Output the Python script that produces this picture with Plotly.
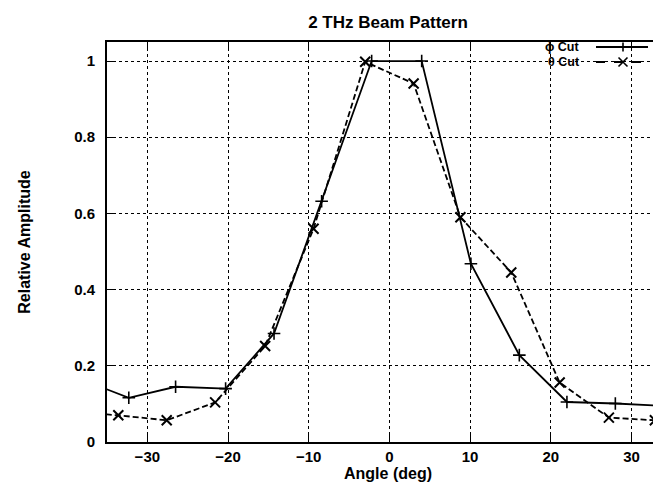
import plotly.graph_objects as go

# Data
phi_angle = [-38.3, -32.3, -26.5, -20.3, -14.3, -8.4, -2.2, 4.0, 10.1, 16.1, 22.0, 28.0, 34.0, 40.0]
phi_amp = [0.165, 0.116, 0.145, 0.140, 0.285, 0.632, 1.0, 1.0, 0.468, 0.228, 0.105, 0.101, 0.095, 0.093]
theta_angle = [-39.6, -33.6, -27.6, -21.6, -15.4, -9.4, -3.0, 3.0, 8.8, 15.1, 21.1, 27.2, 32.9, 38.9]
theta_amp = [0.080, 0.070, 0.057, 0.104, 0.252, 0.560, 0.998, 0.941, 0.590, 0.445, 0.156, 0.064, 0.057, 0.052]

x_ticks = [-30, -20, -10, 0, 10, 20, 30]
y_ticks = [0, 0.2, 0.4, 0.6, 0.8, 1.0]
y_ticktext = ["0", "0.2", "0.4", "0.6", "0.8", "1"]

FONT = "Liberation Sans, Arial, Helvetica, sans-serif"

fig = go.Figure()
fig.add_trace(go.Scatter(
    x=phi_angle, y=phi_amp, mode="lines+markers", name="\u03d5 Cut",
    line=dict(color="black", width=1.8),
    marker=dict(symbol="cross-thin", size=9, color="black", line=dict(color="black", width=1.6)),
    cliponaxis=True, showlegend=False,
))
fig.add_trace(go.Scatter(
    x=theta_angle, y=theta_amp, mode="lines+markers", name="\u03b8 Cut",
    line=dict(color="black", width=1.8, dash="6px,3px"),
    marker=dict(symbol="x-thin", size=10, color="black", line=dict(color="black", width=2)),
    cliponaxis=True, showlegend=False,
))

axis_common = dict(
    showline=True, linecolor="black", linewidth=2,
    ticks="inside", ticklen=7, tickwidth=1.3, tickcolor="black",
    showgrid=True, gridcolor="black", gridwidth=1, griddash="dot",
    zeroline=False,
    tickfont=dict(family=FONT, size=15, color="black", weight="bold"),
)

fig.update_xaxes(
    range=[-35, 34.65], tickvals=x_ticks, mirror="ticks",
    title=dict(text="Angle (deg)", font=dict(family=FONT, size=16, color="black", weight="bold"), standoff=0),
    **axis_common,
)
fig.update_yaxes(
    range=[0, 1.05], tickvals=y_ticks, ticktext=y_ticktext, mirror=False,
    ticklabelstandoff=7,
    title=dict(text="Relative Amplitude", font=dict(family=FONT, size=16, color="black", weight="bold"), standoff=40),
    **axis_common,
)

# Manual gnuplot-style key (text, then line sample with marker)
def px2x(px):
    return (px - 99) / 562.0

def py2y(py):
    return (434 - py) / 400.0

shapes = []
annotations = []
rows = [("\u03d5 Cut", 39, "solid", "plus"), ("\u03b8 Cut", 54, "dash", "x")]
for label, py, dash, mk in rows:
    annotations.append(dict(
        x=px2x(574), y=py2y(py), xref="paper", yref="paper", text=label,
        showarrow=False, xanchor="right", yanchor="middle",
        font=dict(family=FONT, size=12.5, color="black", weight="bold"),
    ))
    shapes.append(dict(type="line", xref="paper", yref="paper",
                       x0=px2x(588), x1=px2x(640), y0=py2y(py), y1=py2y(py),
                       line=dict(color="black", width=1.8, dash=dash)))
    shapes.append(dict(type="line", xref="paper", yref="paper",
                       x0=px2x(653), x1=px2x(662), y0=py2y(py), y1=py2y(py),
                       line=dict(color="black", width=1.8)))
    cx, cy = px2x(615), py2y(py)
    dx, dy = 4.5 / 562.0, 4.5 / 400.0
    if mk == "plus":
        path = f"M{cx-dx},{cy} L{cx+dx},{cy} M{cx},{cy-dy} L{cx},{cy+dy}"
    else:
        path = f"M{cx-dx},{cy-dy} L{cx+dx},{cy+dy} M{cx-dx},{cy+dy} L{cx+dx},{cy-dy}"
    shapes.append(dict(type="path", xref="paper", yref="paper", path=path,
                       line=dict(color="black", width=1.6)))

fig.update_layout(
    width=661, height=489,
    margin=dict(l=99, r=0, t=34, b=55),
    paper_bgcolor="white", plot_bgcolor="white",
    title=dict(text="2 THz Beam Pattern", x=0.5, xref="paper", y=1 - 14 / 489, yanchor="middle",
               font=dict(family=FONT, size=17, color="black", weight="bold")),
    shapes=shapes, annotations=annotations,
    showlegend=False,
)

fig.write_html("out.html")
